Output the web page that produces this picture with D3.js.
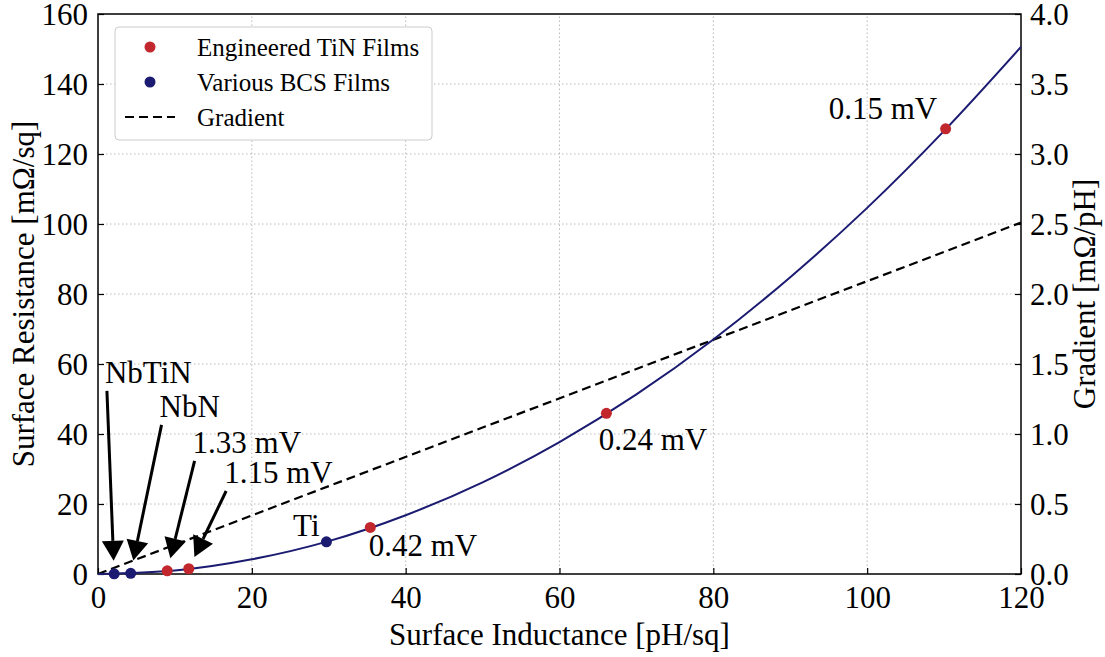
<!DOCTYPE html>
<html>
<head>
<meta charset="utf-8">
<script src="https://cdn.jsdelivr.net/npm/d3@7"></script>
<style>
  body { margin: 0; background: #fff; }
  text { font-family: "Liberation Serif", "DejaVu Serif", serif; fill: #000; }
</style>
</head>
<body>
<div id="chart"></div>
<script>
// Fitted curve
const curveL = [0, 10, 20, 30, 40, 50, 60, 70, 80, 90, 100, 110, 120];
const curveR = [0, 1.0, 4.2, 9.4, 16.8, 26.2, 37.7, 51.3, 67.0, 84.8, 104.6, 126.6, 150.6];

// Gradient (right axis)
const gradL = [0, 120];
const gradG = [0, 2.51];

// Engineered TiN films
const tinL = [9.0, 11.8, 35.4, 66.1, 110.2];
const tinR = [0.9, 1.5, 13.3, 45.9, 127.2];

// Various BCS films
const bcsL = [2.1, 4.25, 29.7];
const bcsR = [0.05, 0.2, 9.2];

// Arrow annotations: label, target, text anchor (data coords)
const arrowLabels = ['NbTiN', 'NbN', '1.33 mV', '1.15 mV'];
const arrowTargetL = [2.1, 4.25, 9.0, 11.8];
const arrowTargetR = [0.05, 0.2, 0.9, 1.5];
const arrowTextL = [0.9, 8.0, 12.3, 16.4];
const arrowTextR = [54.6, 44.9, 34.6, 26.0];

// Plain labels
const plainLabels = ['Ti', '0.42 mV', '0.24 mV', '0.15 mV'];
const plainL = [28.8, 35.2, 65.1, 95.0];
const plainR = [11.0, 5.2, 35.4, 130.0];
const plainAnchor = ['end', 'start', 'start', 'start'];

const xTicks = [0, 20, 40, 60, 80, 100, 120];
const yTicks = [0, 20, 40, 60, 80, 100, 120, 140, 160];
const y2Ticks = [0, 0.5, 1.0, 1.5, 2.0, 2.5, 3.0, 3.5, 4.0];

const W = 1105, H = 657;
const m = { left: 98, right: 84, top: 14, bottom: 83 };
const red = '#c1272d', navy = '#1b1b72';
const fs = 31;

const svg = d3.select('#chart').append('svg')
  .attr('width', W).attr('height', H);

const x = d3.scaleLinear().domain([0, 120]).range([m.left, W - m.right]);
const y = d3.scaleLinear().domain([0, 160]).range([H - m.bottom, m.top]);
const y2 = d3.scaleLinear().domain([0, 4]).range([H - m.bottom, m.top]);

// Grid
const grid = svg.append('g').attr('stroke', '#b8b8b8').attr('stroke-dasharray', '1.5,2.5');
grid.selectAll('.gx').data(xTicks.slice(1, -1)).join('line')
  .attr('x1', d => x(d)).attr('x2', d => x(d))
  .attr('y1', y(0)).attr('y2', y(160));
grid.selectAll('.gy').data(yTicks.slice(1, -1)).join('line')
  .attr('x1', x(0)).attr('x2', x(120))
  .attr('y1', d => y(d)).attr('y2', d => y(d));

// Axes with inward ticks
const fmt1 = d3.format('.1f');
const xAxis = svg.append('g').attr('transform', `translate(0,${y(0)})`)
  .call(d3.axisBottom(x).tickValues(xTicks).tickSizeInner(-6).tickSizeOuter(0).tickPadding(12));
const yAxis = svg.append('g').attr('transform', `translate(${x(0)},0)`)
  .call(d3.axisLeft(y).tickValues(yTicks).tickSizeInner(-6).tickSizeOuter(0).tickPadding(10));
const y2Axis = svg.append('g').attr('transform', `translate(${x(120)},0)`)
  .call(d3.axisRight(y2).tickValues(y2Ticks).tickFormat(fmt1).tickSizeInner(-6).tickSizeOuter(0).tickPadding(9));

[xAxis, yAxis, y2Axis].forEach(a => {
  a.attr('font-family', null).attr('font-size', fs);
  a.select('.domain').remove();
  a.selectAll('line').attr('stroke', '#000').attr('stroke-width', 1.2);
  a.selectAll('text').attr('fill', '#000');
});
xAxis.selectAll('text').attr('dy', '0.72em');
yAxis.selectAll('text').attr('dy', '0.34em');
y2Axis.selectAll('text').attr('dy', '0.34em');

// Frame
svg.append('rect')
  .attr('x', x(0)).attr('y', y(160))
  .attr('width', x(120) - x(0)).attr('height', y(0) - y(160))
  .attr('fill', 'none').attr('stroke', '#000').attr('stroke-width', 1.5);

const plot = svg.append('g');

// Gradient dashed line
plot.append('path')
  .datum(gradL.map((d, i) => [d, gradG[i]]))
  .attr('fill', 'none').attr('stroke', '#000').attr('stroke-width', 2.2)
  .attr('stroke-dasharray', '9,5')
  .attr('d', d3.line().x(d => x(d[0])).y(d => y2(d[1])));

// Fit curve
plot.append('path')
  .datum(curveL.map((d, i) => [d, curveR[i]]))
  .attr('fill', 'none').attr('stroke', navy).attr('stroke-width', 2)
  .attr('d', d3.line().curve(d3.curveMonotoneX).x(d => x(d[0])).y(d => y(d[1])));

// Points
plot.selectAll('.tin').data(tinL).join('circle')
  .attr('cx', d => x(d)).attr('cy', (d, i) => y(tinR[i])).attr('r', 5.5).attr('fill', red);
plot.selectAll('.bcs').data(bcsL).join('circle')
  .attr('cx', d => x(d)).attr('cy', (d, i) => y(bcsR[i])).attr('r', 5.5).attr('fill', navy);

// Arrows
const headLen = 20, headW = 11;
arrowLabels.forEach((lab, i) => {
  const tx = x(arrowTextL[i]), ty = y(arrowTextR[i]);
  plot.append('text').attr('x', tx).attr('y', ty)
    .attr('font-size', fs).text(lab);
  const sx = tx + 2, sy = ty + 8;
  const ex = x(arrowTargetL[i]), ey = y(arrowTargetR[i]);
  const dx = ex - sx, dy = ey - sy, len = Math.hypot(dx, dy);
  const ux = dx / len, uy = dy / len;
  const tipX = ex - ux * 13, tipY = ey - uy * 13;
  const bx = tipX - ux * headLen, by = tipY - uy * headLen;
  plot.append('line').attr('x1', sx).attr('y1', sy).attr('x2', bx).attr('y2', by)
    .attr('stroke', '#000').attr('stroke-width', 3);
  plot.append('path')
    .attr('d', `M${tipX},${tipY}L${bx - uy * headW},${by + ux * headW}L${bx + uy * headW},${by - ux * headW}Z`)
    .attr('fill', '#000');
});

// Plain labels
plainLabels.forEach((lab, i) => {
  plot.append('text').attr('x', x(plainL[i])).attr('y', y(plainR[i]))
    .attr('text-anchor', plainAnchor[i]).attr('font-size', fs).text(lab);
});

// Axis titles
svg.append('text').attr('x', (x(0) + x(120)) / 2).attr('y', 645)
  .attr('text-anchor', 'middle').attr('font-size', fs).text('Surface Inductance [pH/sq]');
svg.append('text').attr('transform', `translate(34,${(y(0) + y(160)) / 2}) rotate(-90)`)
  .attr('text-anchor', 'middle').attr('font-size', fs).text('Surface Resistance [mΩ/sq]');
svg.append('text').attr('transform', `translate(1095,${(y(0) + y(160)) / 2}) rotate(-90)`)
  .attr('text-anchor', 'middle').attr('font-size', fs).text('Gradient [mΩ/pH]');

// Legend
const lg = svg.append('g').attr('transform', 'translate(115,27)');
lg.append('rect').attr('width', 317).attr('height', 113).attr('rx', 4)
  .attr('fill', '#fff').attr('stroke', '#ccc').attr('stroke-width', 1);
const legendItems = ['Engineered TiN Films', 'Various BCS Films', 'Gradient'];
legendItems.forEach((t, i) => {
  const cy = 20 + i * 35;
  if (i < 2) {
    lg.append('circle').attr('cx', 35).attr('cy', cy).attr('r', 5.5).attr('fill', i === 0 ? red : navy);
  } else {
    lg.append('line').attr('x1', 10).attr('x2', 60).attr('y1', cy).attr('y2', cy)
      .attr('stroke', '#000').attr('stroke-width', 2.2).attr('stroke-dasharray', '9,5');
  }
  lg.append('text').attr('x', 82).attr('y', cy).attr('dy', '0.35em')
    .attr('font-size', 25).text(t);
});
</script>
</body>
</html>
